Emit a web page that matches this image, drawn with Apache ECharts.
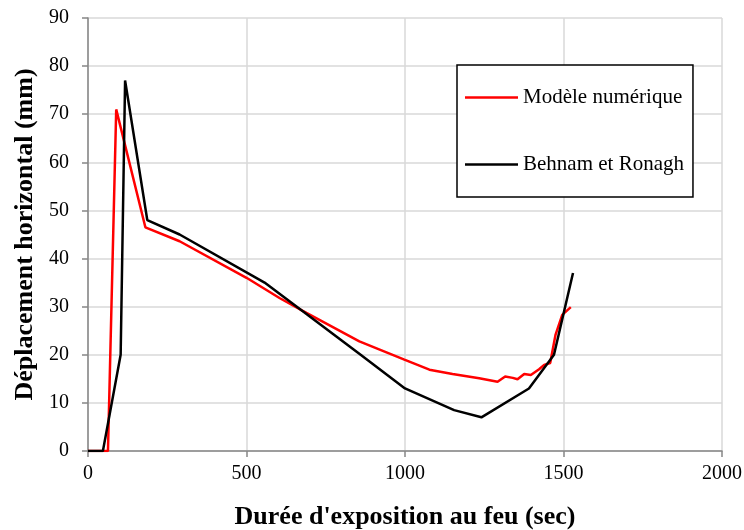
<!DOCTYPE html>
<html>
<head>
<meta charset="utf-8">
<script src="https://cdn.jsdelivr.net/npm/echarts@6/dist/echarts.min.js"></script>
<style>
  html, body { margin: 0; padding: 0; background: #fff; }
  #chart { width: 744px; height: 530px; }
</style>
</head>
<body>
<div id="chart"></div>
<script>
// Horizontal displacement versus fire exposure time
const seriesNames = ['Modèle numérique', 'Behnam et Ronagh'];

// Numerical model: [time (s), displacement (mm)]
const modelTime = [0, 63, 89, 181, 289, 500, 604, 689, 856, 998, 1077, 1150, 1234, 1292, 1316, 1340, 1355, 1376, 1397, 1423, 1439, 1458, 1475, 1496, 1523];
const modelDisp = [0, 0, 71, 46.5, 43.6, 36, 31.8, 28.7, 22.8, 19, 16.9, 16, 15.1, 14.4, 15.5, 15.2, 14.9, 16.0, 15.8, 17.0, 17.9, 18.3, 24.2, 28.3, 29.9];

// Behnam & Ronagh reference results
const refTime = [0, 47, 103, 117, 187, 289, 557, 860, 1000, 1155, 1241, 1391, 1470, 1530];
const refDisp = [0, 0, 20, 77, 48, 45, 35, 20, 13, 8.5, 7, 13, 20, 37];

const xTicks = { min: 0, max: 2000, step: 500 };
const yTicks = { min: 0, max: 90, step: 10 };

const FONT = "'Liberation Serif', 'Times New Roman', serif";
const pair = (xs, ys) => xs.map((x, i) => [x, ys[i]]);
const plain = v => String(v);

const chart = echarts.init(document.getElementById('chart'), null, { renderer: 'canvas' });
chart.setOption({
  animation: false,
  backgroundColor: '#ffffff',
  textStyle: { fontFamily: FONT, color: '#000' },
  grid: { left: 88, right: 22, top: 18, bottom: 79, containLabel: false, outerBoundsMode: 'none' },
  legend: {
    orient: 'vertical',
    left: 457,
    top: 65,
    padding: [22, 9, 22, 8],
    icon: 'rect',
    itemWidth: 53,
    itemHeight: 2.5,
    itemGap: 46,
    borderColor: '#000',
    borderWidth: 1.5,
    backgroundColor: '#fff',
    textStyle: { fontFamily: FONT, fontSize: 21, color: '#000' },
    data: seriesNames
  },
  xAxis: {
    type: 'value',
    min: xTicks.min, max: xTicks.max, interval: xTicks.step,
    name: "Durée d'exposition au feu (sec)",
    nameLocation: 'middle',
    nameGap: 53,
    nameTextStyle: { fontFamily: FONT, fontSize: 26, fontWeight: 'bold', color: '#000' },
    axisLine: { lineStyle: { color: '#868686', width: 1.5 } },
    axisTick: { show: true, length: 6, lineStyle: { color: '#868686', width: 1.5 } },
    axisLabel: { fontFamily: FONT, fontSize: 20, color: '#000', margin: 13, formatter: plain },
    splitLine: { show: true, lineStyle: { color: '#d9d9d9', width: 1.5 } }
  },
  yAxis: {
    type: 'value',
    min: yTicks.min, max: yTicks.max, interval: yTicks.step,
    name: 'Déplacement horizontal (mm)',
    nameLocation: 'middle',
    nameGap: 43,
    nameTextStyle: { fontFamily: FONT, fontSize: 26, fontWeight: 'bold', color: '#000' },
    axisLine: { show: true, lineStyle: { color: '#868686', width: 1.5 } },
    axisTick: { show: true, length: 6, lineStyle: { color: '#868686', width: 1.5 } },
    axisLabel: { fontFamily: FONT, fontSize: 20, color: '#000', margin: 19, formatter: plain },
    splitLine: { show: true, lineStyle: { color: '#d9d9d9', width: 1.5 } }
  },
  series: [
    {
      name: seriesNames[0],
      type: 'line',
      data: pair(modelTime, modelDisp),
      symbol: 'none',
      lineStyle: { color: '#ff0000', width: 2.5 },
      itemStyle: { color: '#ff0000' },
      z: 2
    },
    {
      name: seriesNames[1],
      type: 'line',
      data: pair(refTime, refDisp),
      symbol: 'none',
      lineStyle: { color: '#000000', width: 2.5 },
      itemStyle: { color: '#000000' },
      z: 3
    }
  ]
});
</script>
</body>
</html>
